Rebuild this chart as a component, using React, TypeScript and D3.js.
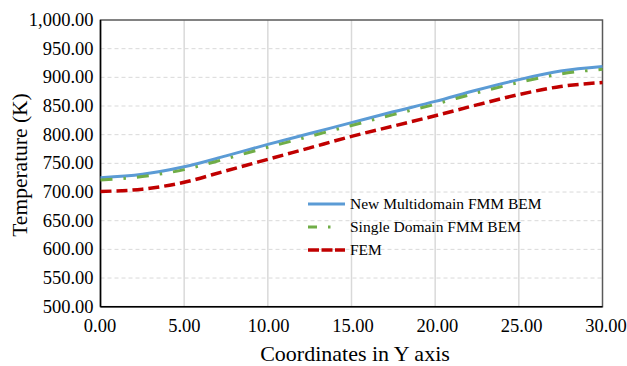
import React from "react";
import * as d3 from "d3";

const xs = [0, 2.5, 5, 7.5, 10, 12.5, 15, 17.5, 20, 22.5, 25, 27.5, 30];
const multidomain = [725, 731, 744, 763, 783, 802, 821, 840, 858, 878, 896, 911, 919];
const singleDomain = [721, 727, 739, 758, 778, 797, 816, 835, 853, 873, 891, 906, 914];
const fem = [701, 705, 717, 737, 757, 777, 797, 815, 833, 852, 870, 884, 891];
const xTicks = [0, 5, 10, 15, 20, 25, 30];
const yTicks = [500, 550, 600, 650, 700, 750, 800, 850, 900, 950, 1000];
const seriesNames = ["New Multidomain FMM BEM", "Single Domain FMM BEM", "FEM"];

const W = 627, H = 366;
const L = 100.5, R = 602.5, T = 20, B = 306.7;
const FONT = "Liberation Serif, DejaVu Serif, serif";

export default function App() {
  const x = d3.scaleLinear().domain([0, 30]).range([L, R]);
  const xLab = d3.scaleLinear().domain([0, 30]).range([100, 606]);
  const y = d3.scaleLinear().domain([500, 1000]).range([B, T]);
  const fmt = d3.format(",.2f");
  const line = (vals: number[]) =>
    d3.line<number>().x((_, i) => x(xs[i])).y((v) => y(v)).curve(d3.curveMonotoneX)(vals) || "";

  const series = [
    { name: seriesNames[0], vals: multidomain, color: "#5B9BD5", dash: "none", w: 3 },
    { name: seriesNames[1], vals: singleDomain, color: "#70AD47", dash: "12,11,2.5,11", w: 3 },
    { name: seriesNames[2], vals: fem, color: "#C00000", dash: "11,5", w: 3.5 },
  ];
  const legendY = [204, 227, 250];
  const ts = { fontFamily: FONT };

  return (
    <svg width={W} height={H} style={{ position: "absolute", left: 0, top: 0, background: "#fff", fontFamily: FONT }}>
      <rect x={0} y={0} width={W} height={H} fill="#fff" />
      {yTicks.slice(1, -1).map((t) => (
        <line key={"h" + t} x1={L} x2={R} y1={y(t)} y2={y(t)} stroke="#d9d9d9" strokeWidth={1} strokeDasharray="4,3" />
      ))}
      {xTicks.slice(1, -1).map((t) => (
        <line key={"v" + t} x1={x(t)} x2={x(t)} y1={T} y2={B} stroke="#d9d9d9" strokeWidth={1.5} />
      ))}
      <rect x={L} y={T} width={R - L} height={B - T} fill="none" stroke="#595959" strokeWidth={1.5} />
      <line x1={L} x2={L} y1={T} y2={B} stroke="#000" strokeWidth={1.5} />
      <line x1={L} x2={R} y1={B} y2={B} stroke="#000" strokeWidth={1.5} />
      {yTicks.map((t) => (
        <text key={"yl" + t} x={93.5} y={y(t)} dy="0.33em" textAnchor="end" fontSize={18.5} fill="#000" style={ts}>
          {fmt(t)}
        </text>
      ))}
      {xTicks.map((t) => (
        <text key={"xl" + t} x={xLab(t)} y={331.5} textAnchor="middle" fontSize={18.5} fill="#000" style={ts}>
          {fmt(t)}
        </text>
      ))}
      <text x={355} y={360.5} textAnchor="middle" fontSize={22} fill="#000" style={ts}>
        Coordinates in Y axis
      </text>
      <text transform={`translate(27, 165) rotate(-90)`} textAnchor="middle" fontSize={21.5} fill="#000" style={ts}>
        Temperature (K)
      </text>
      {series.map((s) => (
        <path key={s.name} d={line(s.vals)} fill="none" stroke={s.color} strokeWidth={s.w} strokeDasharray={s.dash} />
      ))}
      {series.map((s, i) => (
        <g key={"lg" + i}>
          <line x1={308} x2={345} y1={legendY[i]} y2={legendY[i]} stroke={s.color} strokeWidth={s.w} strokeDasharray={s.dash === "none" ? "none" : i === 1 ? "9,11,2.5,20" : "11,2.5"} />
          <text x={350} y={legendY[i]} dy="0.35em" fontSize={15.5} fill="#000" style={ts}>
            {s.name}
          </text>
        </g>
      ))}
    </svg>
  );
}
